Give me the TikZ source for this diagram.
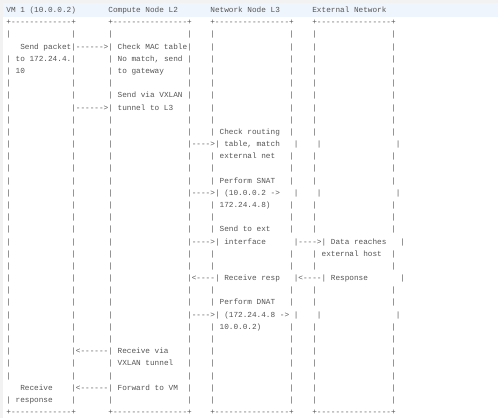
\documentclass[tikz,border=0pt]{standalone}
\usepackage{fontspec}
\setmonofont{Liberation Mono}
\definecolor{txtgray}{HTML}{555555}
\definecolor{headblue}{HTML}{EEF5FC}
\definecolor{edgegray}{HTML}{F2F2F2}
\newcommand{\vmblank}{|~~~~~~~~~~~~~|}
\newcommand{\boxblank}{|~~~~~~~~~~~~~~~~|}
\newcommand{\vmtop}{+-------------+}
\newcommand{\boxtop}{+----------------+}
\newcommand{\gapseven}{~~~~~~~}
\newcommand{\gapfour}{~~~~}
\newcommand{\stdrow}{\vmblank\gapseven\boxblank\gapfour\boxblank\gapfour\boxblank}
\newcommand{\toprow}{\vmtop\gapseven\boxtop\gapfour\boxtop\gapfour\boxtop}
\begin{document}
\begin{tikzpicture}[x=1pt,y=1pt,
  asciirow/.style={anchor=base west, inner sep=0pt, text=txtgray,
    font=\fontsize{7.725pt}{9pt}\selectfont\ttfamily\frenchspacing}]
\useasboundingbox (0,0) rectangle (498,-418);
\fill[white] (0,0) rectangle (498,-418);
\fill[edgegray] (0,0) rectangle (498,-3);
\fill[edgegray] (0,0) rectangle (3,-418);
\fill[headblue] (3,-3.3) rectangle (498,-16.7);
\node[asciirow] (r0) at (6.2,-12.6) {VM~1~(10.0.0.2)\gapseven Compute~Node~L2\gapseven Network~Node~L3\gapseven External~Network};
\node[asciirow] (r1) at (6.2,-24.78) {\toprow};
\node[asciirow] (r2) at (6.2,-36.96) {\stdrow};
\node[asciirow] (r3) at (6.2,-49.14) {~~~Send~packet|------>|~Check~MAC~table|\gapfour\boxblank\gapfour\boxblank};
\node[asciirow] (r4) at (6.2,-61.32) {|~to~172.24.4.|\gapseven|~No~match,~send~|\gapfour\boxblank\gapfour\boxblank};
\node[asciirow] (r5) at (6.2,-73.5) {|~10~~~~~~~~~~|\gapseven|~to~gateway~~~~~|\gapfour\boxblank\gapfour\boxblank};
\node[asciirow] (r6) at (6.2,-85.68) {\stdrow};
\node[asciirow] (r7) at (6.2,-97.86) {\vmblank\gapseven|~Send~via~VXLAN~|\gapfour\boxblank\gapfour\boxblank};
\node[asciirow] (r8) at (6.2,-110.04) {\vmblank------>|~tunnel~to~L3~~~|\gapfour\boxblank\gapfour\boxblank};
\node[asciirow] (r9) at (6.2,-122.22) {\stdrow};
\node[asciirow] (r10) at (6.2,-134.4) {\vmblank\gapseven\boxblank\gapfour|~Check~routing~~|\gapfour\boxblank};
\node[asciirow] (r11) at (6.2,-146.58) {\vmblank\gapseven\boxblank---->|~table,~match~~~|\gapfour\boxblank};
\node[asciirow] (r12) at (6.2,-158.76) {\vmblank\gapseven\boxblank\gapfour|~external~net~~~|\gapfour\boxblank};
\node[asciirow] (r13) at (6.2,-170.94) {\stdrow};
\node[asciirow] (r14) at (6.2,-183.12) {\vmblank\gapseven\boxblank\gapfour|~Perform~SNAT~~~|\gapfour\boxblank};
\node[asciirow] (r15) at (6.2,-195.3) {\vmblank\gapseven\boxblank---->|~(10.0.0.2~->~~~|\gapfour\boxblank};
\node[asciirow] (r16) at (6.2,-207.48) {\vmblank\gapseven\boxblank\gapfour|~172.24.4.8)~~~~|\gapfour\boxblank};
\node[asciirow] (r17) at (6.2,-219.66) {\stdrow};
\node[asciirow] (r18) at (6.2,-231.84) {\vmblank\gapseven\boxblank\gapfour|~Send~to~ext~~~~|\gapfour\boxblank};
\node[asciirow] (r19) at (6.2,-244.02) {\vmblank\gapseven\boxblank---->|~interface~~~~~~|---->|~Data~reaches~~~|};
\node[asciirow] (r20) at (6.2,-256.2) {\vmblank\gapseven\boxblank\gapfour\boxblank\gapfour|~external~host~~|};
\node[asciirow] (r21) at (6.2,-268.38) {\stdrow};
\node[asciirow] (r22) at (6.2,-280.56) {\vmblank\gapseven\boxblank<----|~Receive~resp~~~|<----|~Response~~~~~~~|};
\node[asciirow] (r23) at (6.2,-292.74) {\stdrow};
\node[asciirow] (r24) at (6.2,-304.92) {\vmblank\gapseven\boxblank\gapfour|~Perform~DNAT~~~|\gapfour\boxblank};
\node[asciirow] (r25) at (6.2,-317.1) {\vmblank\gapseven\boxblank---->|~(172.24.4.8~->~|\gapfour\boxblank};
\node[asciirow] (r26) at (6.2,-329.28) {\vmblank\gapseven\boxblank\gapfour|~10.0.0.2)~~~~~~|\gapfour\boxblank};
\node[asciirow] (r27) at (6.2,-341.46) {\stdrow};
\node[asciirow] (r28) at (6.2,-353.64) {\vmblank<------|~Receive~via~~~~|\gapfour\boxblank\gapfour\boxblank};
\node[asciirow] (r29) at (6.2,-365.82) {\vmblank\gapseven|~VXLAN~tunnel~~~|\gapfour\boxblank\gapfour\boxblank};
\node[asciirow] (r30) at (6.2,-378.0) {\stdrow};
\node[asciirow] (r31) at (6.2,-390.18) {~~~Receive~~~~|<------|~Forward~to~VM~~|\gapfour\boxblank\gapfour\boxblank};
\node[asciirow] (r32) at (6.2,-402.36) {|~response~~~~|\gapseven\boxblank\gapfour\boxblank\gapfour\boxblank};
\node[asciirow] (r33) at (6.2,-414.54) {\toprow};
\end{tikzpicture}
\end{document}
